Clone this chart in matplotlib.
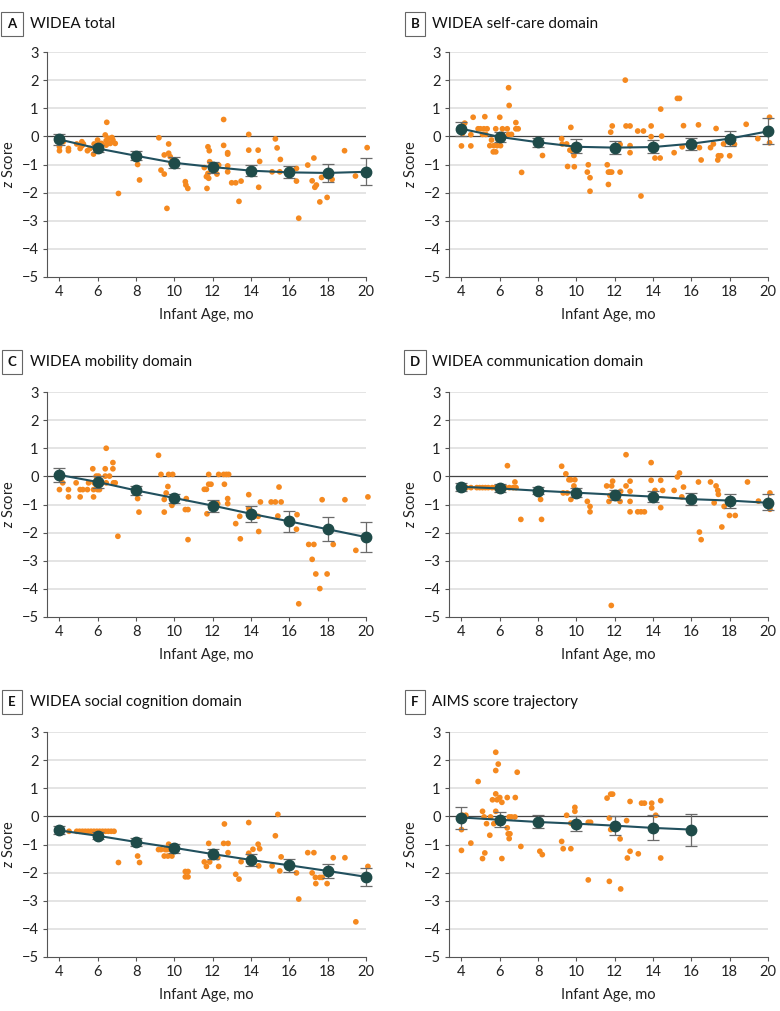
import numpy as np
import matplotlib.pyplot as plt

plt.rcParams['font.family'] = ['Lato', 'DejaVu Sans']
plt.rcParams['mathtext.fontset'] = 'custom'
plt.rcParams['mathtext.it'] = 'Lato:italic'
plt.rcParams['mathtext.rm'] = 'Lato'

# ---------------------------------------------------------------------------
# Data
# ---------------------------------------------------------------------------

mean_age = [4, 6, 8, 10, 12, 14, 16, 18, 20]
mean_age_f = [4, 6, 8, 10, 12, 14, 16]

# A  WIDEA total
a_x = [4.0, 4.0, 4.2, 4.47, 4.47, 4.9, 5.08, 5.17, 5.17, 5.25, 5.46, 5.6, 5.78, 5.81, 5.99,
       6.05, 6.2, 6.39, 6.47, 6.44, 6.44, 6.56, 6.65, 6.74, 6.79, 6.91, 7.08,
       8.08, 8.18, 9.19, 9.3, 9.47, 9.47, 9.61, 9.7, 9.7, 9.78, 9.82, 9.96,
       10.57, 10.6, 10.7, 11.56, 11.67, 11.7, 11.75, 11.82, 11.75, 11.79, 11.84, 12.22, 12.31,
       12.57, 12.57, 12.78, 12.78, 12.78, 12.78, 12.99, 13.2, 13.48, 13.37,
       13.88, 13.88, 14.37, 14.45, 14.4, 15.1, 15.27, 15.36, 15.53, 15.5, 16.37, 16.37, 16.49,
       16.96, 17.19, 17.28, 17.33, 17.41, 17.59, 17.68, 17.97, 18.23, 18.88, 19.45, 20.06]
a_z = [-0.37, -0.51, -0.19, -0.43, -0.51, -0.27, -0.43, -0.19, -0.34, -0.27, -0.51, -0.43, -0.63, -0.27, -0.13,
       -0.27, -0.25, 0.05, 0.5, -0.15, -0.31, -0.07, -0.25, -0.04, -0.13, -0.25, -2.03,
       -1.0, -1.55, -0.05, -1.2, -1.34, -0.66, -2.56, -0.27, -0.6, -0.72, -0.96, -0.84,
       -1.61, -1.73, -1.85, -1.11, -1.43, -1.85, -0.37, -0.51, -1.32, -1.49, -0.9, -1.34, -1.02,
       0.6, -0.32, -0.58, -0.63, -1.05, -1.26, -1.65, -1.65, -1.59, -2.31,
       0.07, -0.49, -0.49, -0.89, -1.81, -1.26, -0.09, -0.41, -0.82, -1.26, -1.14, -1.59, -2.91,
       -1.02, -1.58, -0.77, -1.81, -1.73, -2.33, -1.46, -2.17, -1.53, -0.51, -1.41, -0.4]
a_mean = [-0.11, -0.43, -0.69, -0.94, -1.09, -1.22, -1.28, -1.3, -1.26]
a_hi = [0.1, -0.3, -0.53, -0.72, -0.9, -1.03, -1.07, -0.99, -0.78]
a_lo = [-0.3, -0.55, -0.84, -1.14, -1.29, -1.41, -1.49, -1.61, -1.73]

# B  WIDEA self-care domain
b_x = [4.0, 4.05, 4.17, 4.49, 4.49, 4.61, 4.87, 4.99, 5.1, 5.17, 5.22, 5.27, 5.34, 5.48, 5.57,
       5.66, 5.69, 5.79, 5.79, 5.86, 5.92, 6.0, 6.04, 6.14, 6.14, 6.39, 6.46, 6.49, 6.46, 6.61,
       6.84, 6.84, 6.96, 7.14, 8.23,
       9.23, 9.26, 9.49, 9.54, 9.66, 9.71, 9.75, 9.87, 9.89, 9.92,
       10.62, 10.57, 10.71, 10.71, 11.61, 11.67, 11.67, 11.75, 11.79, 11.87, 11.84, 12.28, 12.28,
       12.55, 12.59, 12.8, 12.8, 12.8, 13.2, 13.5, 13.37,
       13.9, 13.9, 13.93, 14.1, 14.37, 14.4, 14.45, 15.1, 15.27, 15.38, 15.52, 15.59,
       16.37, 16.42, 16.51, 17.0, 17.15, 17.29, 17.38, 17.41, 17.54, 17.68, 18.0, 18.25,
       18.86, 19.47, 20.08, 20.08]
b_z = [-0.34, 0.1, 0.47, 0.06, -0.34, 0.68, 0.27, 0.27, 0.07, 0.27, 0.7, 0.07, 0.27, -0.33, -0.13,
       -0.55, -0.33, 0.27, -0.55, -0.33, -0.13, 0.68, -0.33, 0.27, 0.07, 0.27, 1.73, 1.1, 0.07, 0.07,
       0.49, 0.27, 0.27, -1.28, -0.68,
       -0.08, -0.27, -0.27, -1.07, -0.49, 0.32, -0.49, -0.68, -1.08, -0.33,
       -1.01, -1.27, -1.47, -1.95, -1.01, -1.27, -1.71, -1.27, 0.15, 0.37, -1.27, -1.27, -0.29,
       2.0, 0.37, 0.37, -0.33, -0.58, 0.19, 0.19, -2.12,
       0.37, -0.01, -0.37, -0.77, -0.77, 0.97, 0.01, -0.58, 1.35, 1.35, -0.37, 0.38,
       0.41, -0.4, -0.84, -0.4, -0.27, 0.28, -0.84, -0.69, -0.69, -0.27, -0.69, -0.28,
       0.43, -0.08, 0.68, -0.23]
b_mean = [0.27, -0.02, -0.21, -0.37, -0.4, -0.38, -0.26, -0.08, 0.18]
b_hi = [0.52, 0.15, -0.04, -0.11, -0.15, -0.13, -0.04, 0.2, 0.64]
b_lo = [0.0, -0.19, -0.39, -0.6, -0.63, -0.6, -0.49, -0.33, -0.27]

# C  WIDEA mobility domain
c_x = [4.0, 4.17, 4.47, 4.47, 4.87, 5.08, 5.08, 5.22, 5.46, 5.52, 5.74, 5.78, 5.78, 5.81, 5.92,
       5.99, 6.04, 6.09, 6.39, 6.39, 6.44, 6.44, 6.61, 6.79, 6.79, 6.82, 6.91, 7.05,
       8.08, 8.15, 9.17, 9.3, 9.47, 9.47, 9.57, 9.66, 9.7, 9.87, 9.91,
       10.62, 10.57, 10.71, 10.71, 11.56, 11.67, 11.7, 11.79, 11.79, 11.91, 12.26, 12.31,
       12.57, 12.61, 12.71, 12.83, 12.78, 12.78,
       13.2, 13.41, 13.44, 13.88, 13.88, 14.1, 14.37, 14.4, 14.49,
       15.05, 15.27, 15.4, 15.46, 15.57, 16.4, 16.37, 16.49,
       17.01, 17.19, 17.28, 17.38, 17.59, 17.71, 17.97, 18.29, 18.9, 19.47, 20.1]
c_z = [-0.47, -0.23, -0.47, -0.73, -0.23, -0.47, -0.73, -0.47, -0.47, -0.23, 0.27, -0.47, -0.73, -0.23, 0.01,
       -0.47, 0.01, -0.47, 0.27, 0.01, 1.0, -0.23, 0.01, 0.49, 0.27, -0.23, -0.23, -2.13,
       -0.79, -1.27, 0.75, 0.07, -1.27, -0.82, -0.59, -0.36, 0.07, -1.03, 0.07,
       -0.79, -1.18, -1.18, -2.25, -0.46, -0.46, -1.33, 0.07, -0.28, -0.28, -0.97, 0.07,
       0.07, -0.28, 0.07, 0.07, -0.79, -0.97,
       -1.68, -1.42, -2.22, -0.65, -1.15, -1.45, -1.42, -1.96, -0.91,
       -0.91, -0.91, -1.41, -0.38, -0.91, -1.36, -1.88, -4.53,
       -2.42, -2.95, -2.42, -3.47, -3.99, -0.83, -3.47, -2.42, -0.83, -2.63, -0.73]
c_mean = [0.05, -0.2, -0.5, -0.77, -1.04, -1.33, -1.6, -1.88, -2.16]
c_hi = [0.31, 0.0, -0.34, -0.62, -0.83, -1.05, -1.23, -1.45, -1.62]
c_lo = [-0.2, -0.4, -0.65, -0.95, -1.27, -1.62, -1.98, -2.31, -2.69]

# D  WIDEA communication domain
d_x = [4.26, 4.5, 4.8, 4.95, 5.1, 5.25, 5.4, 5.6, 5.75, 5.9, 6.1, 6.3, 6.5, 6.7, 6.85,
       6.4, 6.79, 7.1, 8.13, 8.18,
       9.23, 9.31, 9.45, 9.52, 9.61, 9.71, 9.71, 9.87, 9.92, 10.57, 10.71, 10.71,
       11.58, 11.7, 11.75, 11.82, 11.84, 11.89, 12.28, 12.31,
       12.59, 12.59, 12.8, 12.8, 12.8, 12.8, 13.2, 13.37, 13.55,
       13.9, 13.9, 14.1, 14.4, 14.4, 14.5, 15.1, 15.27, 15.38, 15.5, 15.59,
       16.37, 16.42, 16.51, 17.0, 17.19, 17.29, 17.38, 17.41, 17.59, 17.71, 17.99, 18.29,
       18.93, 19.5, 20.1, 20.1]
d_z = [-0.4, -0.4, -0.4, -0.4, -0.4, -0.4, -0.4, -0.4, -0.4, -0.4, -0.4, -0.4, -0.4, -0.4, -0.4,
       0.38, -0.2, -1.53, -0.82, -1.53,
       0.36, -0.59, 0.09, -0.59, -0.12, -0.82, -0.12, -0.34, -0.12, -0.89, -1.07, -1.26,
       -0.34, -0.89, -0.68, -4.59, -0.34, -0.17, -0.89, -0.53,
       0.77, -0.34, -0.17, -0.53, -0.89, -1.26, -1.26, -1.26, -1.26,
       0.49, -0.14, -0.5, -0.14, -1.11, -0.5, -0.5, -0.02, 0.12, -0.73, -0.38,
       -0.2, -1.98, -2.25, -0.2, -0.94, -0.34, -0.5, -0.64, -1.8, -1.07, -1.39, -1.39,
       -0.2, -0.88, -0.59, -1.17]
d_mean = [-0.37, -0.43, -0.51, -0.58, -0.65, -0.72, -0.81, -0.86, -0.94]
d_hi = [-0.24, -0.28, -0.38, -0.41, -0.47, -0.53, -0.59, -0.62, -0.64]
d_lo = [-0.52, -0.56, -0.64, -0.73, -0.83, -0.91, -1.01, -1.11, -1.21]

# E  WIDEA social cognition domain
e_x = [4.5, 4.9, 5.05, 5.2, 5.35, 5.5, 5.65, 5.8, 5.95, 6.1, 6.25, 6.4, 6.55, 6.7, 6.85,
       7.08, 8.08, 8.18,
       9.17, 9.3, 9.47, 9.52, 9.61, 9.66, 9.7, 9.78, 9.87, 9.91,
       10.57, 10.57, 10.71, 10.71, 11.56, 11.67, 11.79, 11.84, 12.26, 12.31,
       12.61, 12.57, 12.8, 12.8, 13.2, 13.37, 13.48,
       13.88, 13.88, 14.1, 14.37, 14.45, 14.4, 15.1, 15.27, 15.4, 15.5, 15.57, 16.37, 16.49,
       16.96, 17.19, 17.28, 17.36, 17.38, 17.59, 17.71, 17.97, 18.29, 18.9, 19.47, 20.1]
e_z = [-0.53, -0.53, -0.53, -0.53, -0.53, -0.53, -0.53, -0.53, -0.53, -0.53, -0.53, -0.53, -0.53, -0.53, -0.53,
       -1.64, -1.41, -1.64,
       -1.18, -1.18, -1.41, -1.18, -1.18, -1.41, -0.99, -1.18, -1.41, -1.18,
       -1.96, -2.15, -1.96, -2.15, -1.62, -1.78, -0.96, -1.62, -1.47, -1.78,
       -0.27, -0.96, -0.96, -1.29, -2.06, -2.23, -1.61,
       -0.22, -1.31, -1.17, -0.99, -1.15, -1.76, -1.76, -0.69, 0.07, -1.94, -1.44, -2.01, -2.94,
       -1.29, -2.01, -1.29, -2.17, -2.39, -2.17, -2.17, -2.39, -1.47, -1.47, -3.75, -1.78]
e_mean = [-0.5, -0.69, -0.91, -1.12, -1.34, -1.55, -1.74, -1.94, -2.15]
e_hi = [-0.35, -0.54, -0.76, -0.97, -1.17, -1.32, -1.52, -1.68, -1.84]
e_lo = [-0.64, -0.82, -1.05, -1.29, -1.52, -1.76, -1.96, -2.2, -2.47]

# F  AIMS score trajectory
f_x = [4.05, 4.0, 4.0, 4.23, 4.49, 4.87, 5.1, 5.1, 5.18, 5.22, 5.31, 5.48, 5.52, 5.62, 5.69,
       5.79, 5.79, 5.79, 5.79, 5.86, 5.92, 6.0, 6.0, 6.11, 6.11, 6.39, 6.39, 6.44, 6.49, 6.53,
       6.49, 6.61, 6.79, 6.81, 6.91, 7.1, 8.09, 8.22,
       9.23, 9.31, 9.49, 9.71, 9.71, 9.92, 9.92, 10.62, 10.62, 10.74,
       11.6, 11.72, 11.72, 11.79, 11.89, 11.79, 12.28, 12.31, 12.62, 12.66, 12.8, 12.8,
       13.23, 13.4, 13.55, 13.93, 13.93, 14.14, 14.4, 14.4]
f_z = [0.04, -0.47, -1.21, 0.04, -0.95, 1.24, 0.18, -1.5, -0.02, -1.3, -0.26, -0.67, -0.02, 0.59, -0.26,
       2.28, 1.63, 0.8, 0.18, 0.59, 1.86, 0.67, -0.18, 0.5, -1.5, 0.67, -0.41, -0.62, -0.02, -0.62,
       -0.79, -0.02, -0.02, 0.67, 1.57, -1.07, -1.24, -1.36,
       -0.89, -1.15, 0.04, -1.15, -0.24, 0.32, 0.18, -2.26, -0.21, -0.21,
       0.65, -0.06, -2.31, 0.79, 0.79, -0.47, -0.8, -2.58, -0.15, -1.48, -1.24, 0.53,
       -1.33, 0.47, 0.47, 0.47, 0.3, 0.04, 0.56, -1.48]
f_mean = [-0.04, -0.12, -0.2, -0.26, -0.33, -0.41, -0.47]
f_hi = [0.33, 0.15, 0.04, 0.0, 0.01, 0.06, 0.1]
f_lo = [-0.44, -0.39, -0.41, -0.53, -0.65, -0.85, -1.04]

panels = [
    ('A', 'WIDEA total', a_x, a_z, mean_age, a_mean, a_lo, a_hi),
    ('B', 'WIDEA self-care domain', b_x, b_z, mean_age, b_mean, b_lo, b_hi),
    ('C', 'WIDEA mobility domain', c_x, c_z, mean_age, c_mean, c_lo, c_hi),
    ('D', 'WIDEA communication domain', d_x, d_z, mean_age, d_mean, d_lo, d_hi),
    ('E', 'WIDEA social cognition domain', e_x, e_z, mean_age, e_mean, e_lo, e_hi),
    ('F', 'AIMS score trajectory', f_x, f_z, mean_age_f, f_mean, f_lo, f_hi),
]

# ---------------------------------------------------------------------------
# Style
# ---------------------------------------------------------------------------

ORANGE = '#F5891F'
TEAL_DOT = '#1F4B49'
TEAL_LINE = '#21505E'
ERR = '#6b6b6b'
GRID = '#dcdcdc'
FS = 10.5

W, H = 780, 1011
fig = plt.figure(figsize=(W / 100, H / 100), dpi=100)

col_left = [47 / W, 449 / W]
ax_w = 319 / W
row_bottom = [1 - 277 / H, 1 - 617 / H, 1 - 957 / H]
ax_h = 225 / H
title_y = [1 - 24 / H, 1 - 362 / H, 1 - 702 / H]
box_x = [12 / W, 415 / W]
text_x = [30 / W, 432 / W]

for i, (letter, title, px, pz, mx, mz, lo, hi) in enumerate(panels):
    r, c = divmod(i, 2)
    ax = fig.add_axes([col_left[c], row_bottom[r], ax_w, ax_h])

    ax.set_xlim(3.35, 20)
    ax.set_ylim(-5, 3)
    ax.set_yticks(range(-5, 4))
    ax.set_xticks(range(4, 21, 2))
    for yv in range(-4, 4):
        if yv != 0:
            ax.axhline(yv, color=GRID, lw=1.1, zorder=0)
    ax.axhline(0, color='#444444', lw=0.9, zorder=1)

    ax.scatter(px, pz, s=17, color=ORANGE, edgecolors='none', zorder=2, clip_on=False)

    mz_arr = np.array(mz)
    yerr = [mz_arr - np.array(lo), np.array(hi) - mz_arr]
    ax.errorbar(mx, mz, yerr=yerr, fmt='none', ecolor=ERR, elinewidth=0.9,
                capsize=4.5, capthick=0.9, zorder=3, clip_on=False)
    ax.plot(mx, mz, color=TEAL_LINE, lw=1.5, zorder=4, clip_on=False)
    ax.plot(mx, mz, 'o', color=TEAL_DOT, ms=7.5, zorder=5, clip_on=False)

    for side in ('top', 'right'):
        ax.spines[side].set_visible(False)
    ax.spines['left'].set_color('#555555')
    ax.spines['bottom'].set_color('#555555')
    ax.tick_params(axis='both', labelsize=FS, color='#555555', length=3, width=0.8,
                   pad=3, labelcolor='#222222')
    ax.set_xlabel('Infant Age, mo', fontsize=FS, color='#222222', labelpad=6)
    ax.set_ylabel(r'$z$ Score', fontsize=FS, color='#222222', labelpad=4)

    fig.text(box_x[c], title_y[r], letter, fontsize=FS - 1, fontweight='bold', ha='center',
             va='center', color='#111111',
             bbox=dict(boxstyle='square,pad=0.45', fc='white', ec='#666666', lw=0.8))
    fig.text(text_x[c], title_y[r], title, fontsize=FS + 0.5, ha='left', va='center',
             color='#111111')

fig.savefig('out.png', dpi=100)
